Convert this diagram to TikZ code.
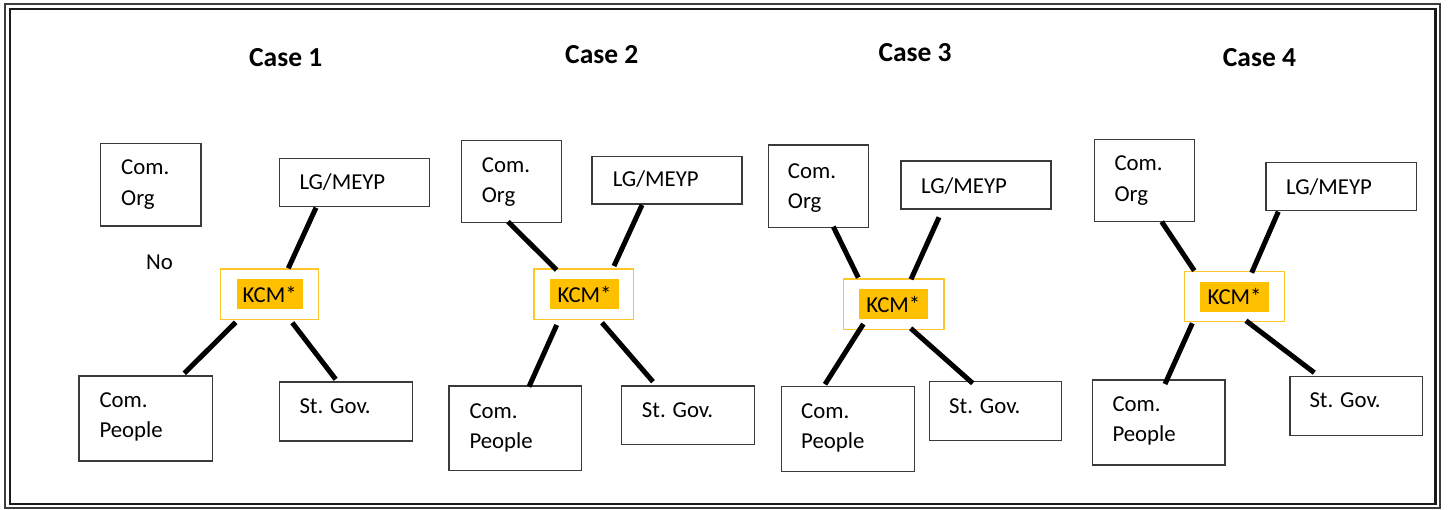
\documentclass[tikz,border=0pt]{standalone}
\usepackage{fontspec}
\setmainfont{Carlito}
\usetikzlibrary{fit}

\definecolor{frameink}{HTML}{1A1A1A}
\definecolor{boxink}{HTML}{3A3A3A}
\definecolor{kcmgold}{HTML}{FFC000}
\definecolor{kcmedge}{HTML}{FFC62A}

\tikzset{
  box/.style={draw=boxink, line width=1.3pt, inner sep=0pt, outer sep=0pt},
  kcmframe/.style={draw=kcmedge, line width=1.4pt, inner sep=0pt, outer sep=0pt},
  kcmmark/.style={fill=kcmgold, inner sep=0pt, minimum width=66pt, minimum height=30pt,
                  font=\fontsize{22.8}{30.5}\selectfont},
  lbl/.style={anchor=base west, inner sep=0pt, font=\fontsize{22.8}{30.5}\selectfont},
  title/.style={anchor=base west, inner sep=0pt, font=\fontsize{27.5}{33}\selectfont\bfseries},
  link/.style={line width=5pt, line cap=butt, black}
}

\begin{document}
\begin{tikzpicture}[x=1pt, y=-1pt]
  \useasboundingbox (0,0) rectangle (1449,510);

  % double page frame
  \draw[frameink!85, line width=2pt] (5,4) rectangle (1440,508);
  \draw[frameink, line width=2.6pt] (10,9) rectangle (1435.5,504);

  % titles
  \node[title] (t1) at (249,66.7) {Case 1};
  \node[title] (t2) at (565,63.3) {Case 2};
  \node[title] (t3) at (878.3,61.7) {Case 3};
  \node[title] (t4) at (1222.7,66.7) {Case 4};

  % ---------------- Case 1 ----------------
  \node[box, fit={(100.7,143.3) (201,226)}] (c1org) {};
  \node[box, fit={(279.3,158.3) (429.3,206.3)}] (c1lg) {};
  \node[box, fit={(79,376) (212.3,461)}] (c1ppl) {};
  \node[box, fit={(279.3,382) (412.3,441)}] (c1gov) {};
  \node[kcmframe, fit={(220.7,269) (318.7,319.3)}] (c1kcmf) {};
  \node[kcmmark] (c1kcm) at (269.7,294.3) {KCM*};

  \node[lbl] (c1orgA) at (121,175) {Com.};
  \node[lbl] (c1orgB) at (121,206) {Org};
  \node[lbl] (c1lgT) at (299.3,190) {LG/MEYP};
  \node[lbl] (c1no) at (146,269.3) {No};
  \node[lbl] (c1pplA) at (99.3,408) {Com.};
  \node[lbl] (c1pplB) at (99.3,438) {People};
  \node[lbl] (c1govT) at (299.3,414) {St. Gov.};

  \coordinate (c1lgE) at (316,207.7);   \coordinate (c1lgK) at (288.3,268.3);
  \coordinate (c1pplK) at (235.7,322.3); \coordinate (c1pplE) at (184.3,373.3);
  \coordinate (c1govK) at (292.3,322.7); \coordinate (c1govE) at (335.7,379.3);
  \draw[link] (c1lgE) -- (c1lgK);
  \draw[link] (c1pplK) -- (c1pplE);
  \draw[link] (c1govK) -- (c1govE);

  % ---------------- Case 2 ----------------
  \node[box, fit={(461.7,140.7) (561.7,222.7)}] (c2org) {};
  \node[box, fit={(592,156.7) (742,204)}] (c2lg) {};
  \node[box, fit={(449,386) (581.7,470.7)}] (c2ppl) {};
  \node[box, fit={(621.7,386) (754.3,444.3)}] (c2gov) {};
  \node[kcmframe, fit={(534,269) (633.7,319.3)}] (c2kcmf) {};
  \node[kcmmark, minimum width=69pt] (c2kcm) at (584.5,294.2) {KCM*};

  \node[lbl] (c2orgA) at (481.7,172.3) {Com.};
  \node[lbl] (c2orgB) at (481.7,202.7) {Org};
  \node[lbl] (c2lgT) at (612.7,186.7) {LG/MEYP};
  \node[lbl] (c2pplA) at (469.3,418.3) {Com.};
  \node[lbl] (c2pplB) at (469.3,448.3) {People};
  \node[lbl] (c2govT) at (641.7,417.3) {St. Gov.};

  \coordinate (c2orgE) at (508,221.7);   \coordinate (c2orgK) at (556.7,270);
  \coordinate (c2lgE) at (642,205);      \coordinate (c2lgK) at (614,266);
  \coordinate (c2pplK) at (556.7,325);   \coordinate (c2pplE) at (529,386.7);
  \coordinate (c2govK) at (602,322.7);   \coordinate (c2govE) at (653,381.7);
  \draw[link] (c2orgE) -- (c2orgK);
  \draw[link] (c2lgE) -- (c2lgK);
  \draw[link] (c2pplK) -- (c2pplE);
  \draw[link] (c2govK) -- (c2govE);

  % ---------------- Case 3 ----------------
  \node[box, fit={(768.3,145) (868.3,227.3)}] (c3org) {};
  \node[box, fit={(901,161) (1051,209)}] (c3lg) {};
  \node[box, fit={(781.7,386.7) (914.3,471.7)}] (c3ppl) {};
  \node[box, fit={(929.3,381.7) (1061.7,440.7)}] (c3gov) {};
  \node[kcmframe, fit={(843.3,279) (944,329.3)}] (c3kcmf) {};
  \node[kcmmark, minimum width=68.7pt] (c3kcm) at (893.3,304) {KCM*};

  \node[lbl] (c3orgA) at (787.7,178.3) {Com.};
  \node[lbl] (c3orgB) at (787.7,208.3) {Org};
  \node[lbl] (c3lgT) at (921,193.3) {LG/MEYP};
  \node[lbl] (c3pplA) at (801,419) {Com.};
  \node[lbl] (c3pplB) at (801,448.3) {People};
  \node[lbl] (c3govT) at (949,414) {St. Gov.};

  \coordinate (c3orgE) at (833.3,226.7); \coordinate (c3orgK) at (858.3,277.7);
  \coordinate (c3lgE) at (939,217.3);    \coordinate (c3lgK) at (911,279.3);
  \coordinate (c3pplK) at (863.3,324);   \coordinate (c3pplE) at (825,384.3);
  \coordinate (c3govK) at (910.7,328.3); \coordinate (c3govE) at (972.7,383.3);
  \draw[link] (c3orgE) -- (c3orgK);
  \draw[link] (c3lgE) -- (c3lgK);
  \draw[link] (c3pplK) -- (c3pplE);
  \draw[link] (c3govK) -- (c3govE);

  % ---------------- Case 4 ----------------
  \node[box, fit={(1094.3,139.3) (1194.3,221.7)}] (c4org) {};
  \node[box, fit={(1266,162.7) (1416.7,210.7)}] (c4lg) {};
  \node[box, fit={(1092.3,380) (1225,465)}] (c4ppl) {};
  \node[box, fit={(1290,376.7) (1422.7,435.7)}] (c4gov) {};
  \node[kcmframe, fit={(1184.3,271.7) (1284.3,321.7)}] (c4kcmf) {};
  \node[kcmmark, minimum width=69pt] (c4kcm) at (1234.5,296.7) {KCM*};

  \node[lbl] (c4orgA) at (1114.3,171) {Com.};
  \node[lbl] (c4orgB) at (1114.3,201.7) {Org};
  \node[lbl] (c4lgT) at (1286,195) {LG/MEYP};
  \node[lbl] (c4pplA) at (1112.3,411.7) {Com.};
  \node[lbl] (c4pplB) at (1112.3,441.7) {People};
  \node[lbl] (c4govT) at (1309.3,407.7) {St. Gov.};

  \coordinate (c4orgE) at (1161.7,221.7); \coordinate (c4orgK) at (1194.3,270.7);
  \coordinate (c4lgE) at (1278.3,211.7);  \coordinate (c4lgK) at (1251.7,272.7);
  \coordinate (c4pplK) at (1192.3,323.3); \coordinate (c4pplE) at (1165,384);
  \coordinate (c4govK) at (1246,320.7);   \coordinate (c4govE) at (1314.3,372.7);
  \draw[link] (c4orgE) -- (c4orgK);
  \draw[link] (c4lgE) -- (c4lgK);
  \draw[link] (c4pplK) -- (c4pplE);
  \draw[link] (c4govK) -- (c4govE);
\end{tikzpicture}
\end{document}
